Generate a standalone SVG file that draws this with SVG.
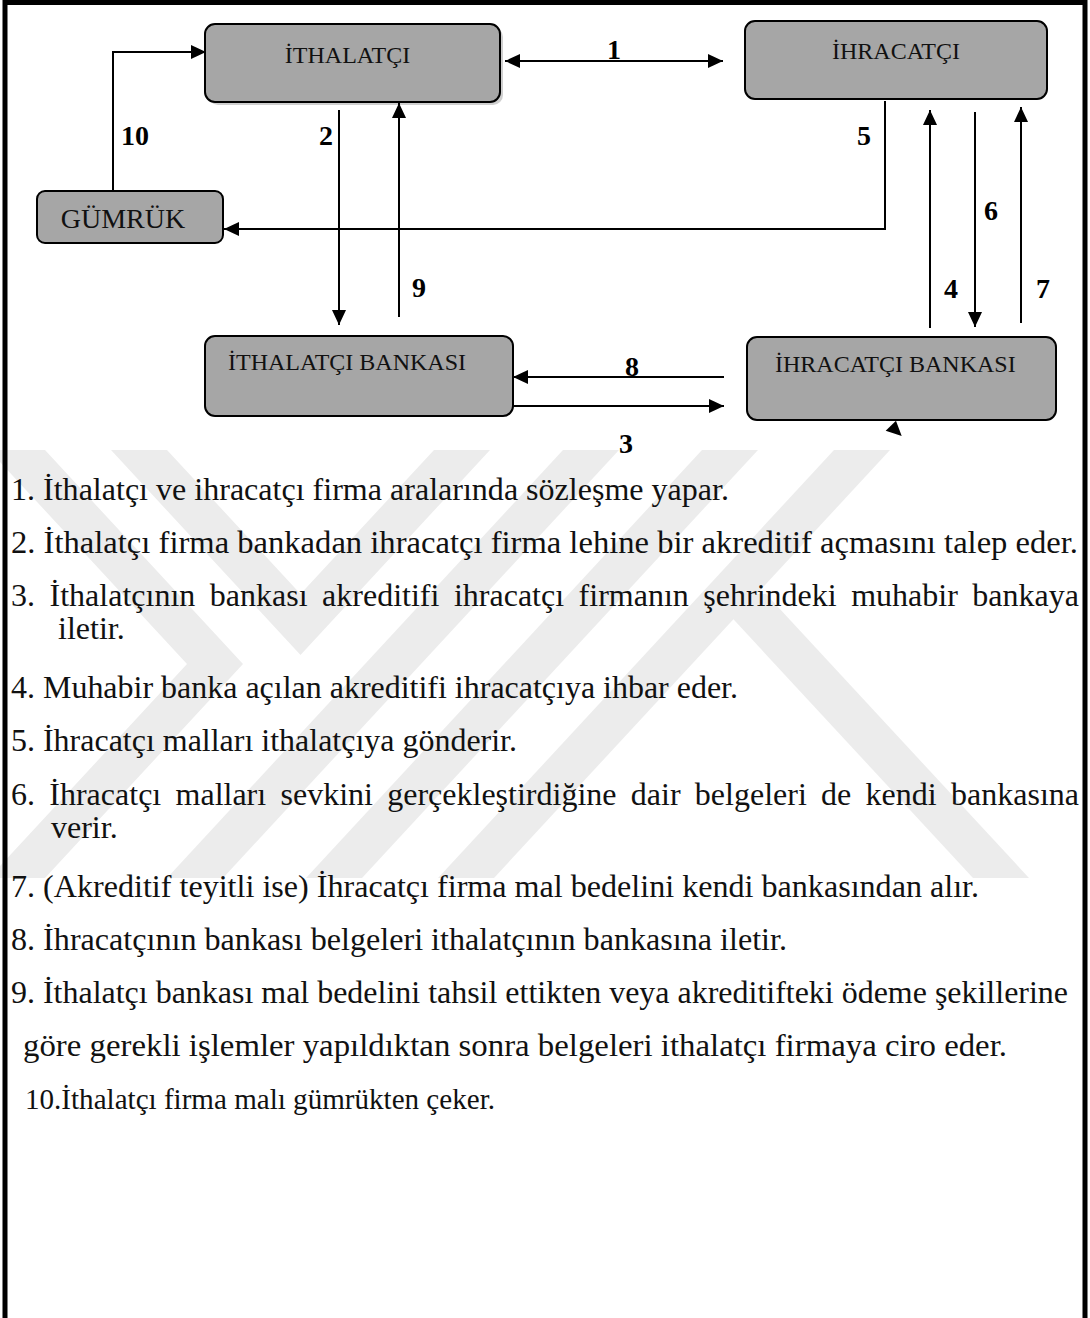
<svg xmlns="http://www.w3.org/2000/svg" width="1090" height="1318" viewBox="0 0 1090 1318">
  <style>
    .box { fill: #a6a6a6; stroke: #000; stroke-width: 2; }
    .shadow { fill: #cfcfcf; }
    .lbl { font-family: "Liberation Serif", "Times New Roman", serif; font-size: 24px; fill: #111; }
    .big { font-size: 28px; }
    .num { font-family: "Liberation Serif", "Times New Roman", serif; font-size: 28px; font-weight: bold; fill: #000; }
    .conn { fill: none; stroke: #000; stroke-width: 2; }
    .txt { font-family: "Liberation Serif", "Times New Roman", serif; font-size: 32px; fill: #111; }
    .small { font-size: 29px; }
    .wm { fill: #ececec; }
  </style>
  <defs>
    <marker id="ah" markerUnits="userSpaceOnUse" markerWidth="16" markerHeight="14" refX="15" refY="7" orient="auto-start-reverse">
      <path d="M0,0 L15,7 L0,14 z" fill="#000"/>
    </marker>
  </defs>
  <rect x="0" y="0" width="1090" height="1318" fill="#fff"/>

  <g id="watermark">
    <polygon class="wm" points="-11,450 45,450 243,664 45,878 -11,878 187,664"/>
    <polygon class="wm" points="111,450 167,450 300.5,594 434,450 490,450 300.5,655"/>
    <polygon class="wm" points="563,450 619,450 223,878 167,878"/>
    <polygon class="wm" points="702,450 758,450 362,878 306,878"/>
    <polygon class="wm" points="834,450 890,450 494,878 438,878"/>
    <polygon class="wm" points="710,594 766,594 1029,878 973,878"/>
  </g>

  <path d="M5,1318 V2.5 H1085 V1318" fill="none" stroke="#000" stroke-width="5"/>

  <g id="n-ithalatci">
    <rect class="shadow" x="208" y="27" width="295" height="78" rx="10"/>
    <rect class="box" x="205" y="24" width="295" height="78" rx="10"/>
    <text class="lbl" x="347.5" y="63" text-anchor="middle">İTHALATÇI</text>
  </g>
  <g id="n-ihracatci">
    <rect class="box" x="745" y="21" width="302" height="78" rx="10"/>
    <text class="lbl" x="896" y="59" text-anchor="middle">İHRACATÇI</text>
  </g>
  <g id="n-gumruk">
    <rect class="box" x="37" y="191" width="186" height="52" rx="8"/>
    <text class="lbl big" x="123" y="228" text-anchor="middle">GÜMRÜK</text>
  </g>
  <g id="n-ithalatci-bankasi">
    <rect class="box" x="205" y="336" width="308" height="80" rx="10"/>
    <text class="lbl" x="228" y="370">İTHALATÇI BANKASI</text>
  </g>
  <g id="n-ihracatci-bankasi">
    <rect class="box" x="747" y="337" width="309" height="83" rx="10"/>
    <text class="lbl" x="775" y="372">İHRACATÇI BANKASI</text>
  </g>

  <g id="connectors">
    <path class="conn" d="M505,61 H723" marker-start="url(#ah)" marker-end="url(#ah)"/>
    <text class="num" x="614" y="59" text-anchor="middle">1</text>
    <path class="conn" d="M113,191 V52 H206" marker-end="url(#ah)"/>
    <text class="num" x="121" y="145">10</text>
    <path class="conn" d="M339,110 V325" marker-end="url(#ah)"/>
    <text class="num" x="333" y="145" text-anchor="end">2</text>
    <path class="conn" d="M399,317 V103" marker-end="url(#ah)"/>
    <text class="num" x="412" y="297">9</text>
    <path class="conn" d="M885,101 V229 H224" marker-end="url(#ah)"/>
    <text class="num" x="871" y="145" text-anchor="end">5</text>
    <path class="conn" d="M930,328 V110" marker-end="url(#ah)"/>
    <text class="num" x="944" y="298">4</text>
    <path class="conn" d="M975,112 V327" marker-end="url(#ah)"/>
    <text class="num" x="984" y="220">6</text>
    <path class="conn" d="M1021,323 V107" marker-end="url(#ah)"/>
    <text class="num" x="1036" y="298">7</text>
    <path class="conn" d="M724,377 H513" marker-end="url(#ah)"/>
    <text class="num" x="632" y="376" text-anchor="middle">8</text>
    <path class="conn" d="M513,406 H724" marker-end="url(#ah)"/>
    <text class="num" x="626" y="453" text-anchor="middle">3</text>
    <polygon points="885.7,430.7 896,420.7 901.7,436" fill="#000"/>
  </g>

  <g id="legend">
    <text class="txt" x="11" y="500" textLength="718" lengthAdjust="spacingAndGlyphs">1. İthalatçı ve ihracatçı firma aralarında sözleşme yapar.</text>
    <text class="txt" x="11" y="553" textLength="1067" lengthAdjust="spacingAndGlyphs">2. İthalatçı firma bankadan ihracatçı firma lehine bir akreditif açmasını talep eder.</text>
    <text class="txt" x="11" y="606" word-spacing="6.5" textLength="1068" lengthAdjust="spacingAndGlyphs">3. İthalatçının bankası akreditifi ihracatçı firmanın şehrindeki muhabir bankaya</text>
    <text class="txt" x="58" y="639">iletir.</text>
    <text class="txt" x="11" y="698" textLength="727" lengthAdjust="spacingAndGlyphs">4. Muhabir banka açılan akreditifi ihracatçıya ihbar eder.</text>
    <text class="txt" x="11" y="751" textLength="506" lengthAdjust="spacingAndGlyphs">5. İhracatçı malları ithalatçıya gönderir.</text>
    <text class="txt" x="11" y="805" word-spacing="6.3" textLength="1068" lengthAdjust="spacingAndGlyphs">6. İhracatçı malları sevkini gerçekleştirdiğine dair belgeleri de kendi bankasına</text>
    <text class="txt" x="51" y="838">verir.</text>
    <text class="txt" x="11" y="897" textLength="968" lengthAdjust="spacingAndGlyphs">7. (Akreditif teyitli ise) İhracatçı firma mal bedelini kendi bankasından alır.</text>
    <text class="txt" x="11" y="950" textLength="776" lengthAdjust="spacingAndGlyphs">8. İhracatçının bankası belgeleri ithalatçının bankasına iletir.</text>
    <text class="txt" x="11" y="1003" textLength="1057" lengthAdjust="spacingAndGlyphs">9. İthalatçı bankası mal bedelini tahsil ettikten veya akreditifteki ödeme şekillerine</text>
    <text class="txt" x="23" y="1056" textLength="984" lengthAdjust="spacingAndGlyphs">göre gerekli işlemler yapıldıktan sonra belgeleri ithalatçı firmaya ciro eder.</text>
    <text class="txt small" x="25" y="1109" textLength="470" lengthAdjust="spacingAndGlyphs">10.İthalatçı firma malı gümrükten çeker.</text>
  </g>
</svg>
